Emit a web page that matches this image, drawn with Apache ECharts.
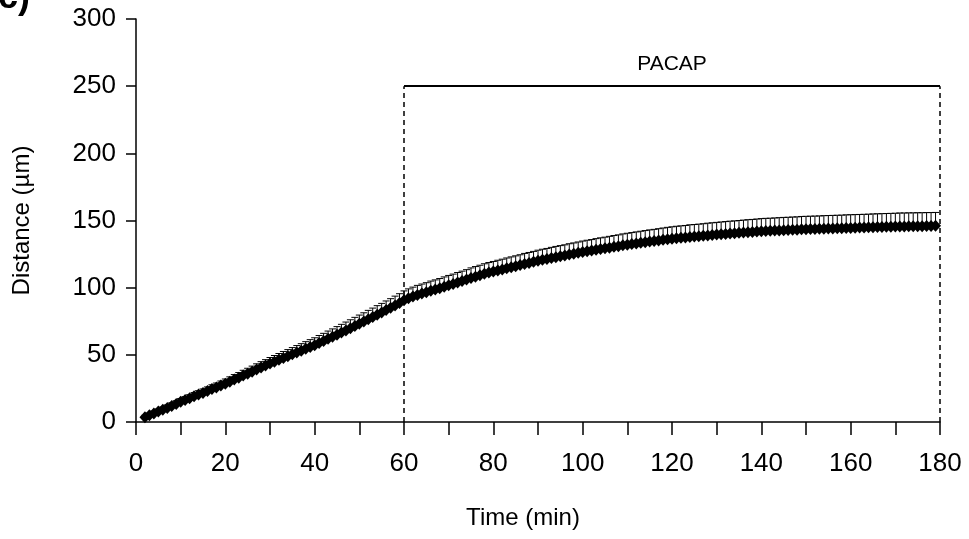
<!DOCTYPE html>
<html>
<head>
<meta charset="utf-8">
<script src="https://cdn.jsdelivr.net/npm/echarts@6/dist/echarts.min.js"></script>
<style>
  html, body { margin: 0; padding: 0; background: #fff; }
  #chart { width: 969px; height: 539px; }
</style>
</head>
<body>
<div id="chart"></div>
<script>
  // time points (min), one per minute
  const times = [];
  for (let t = 2; t <= 179; t++) times.push(t);

  // mean distance (µm)
  const distance = [
    3.5, 5.0, 6.3, 7.8, 9.2, 10.5, 12.0, 13.4, 15.0,
    16.3, 17.6, 19.1, 20.4, 21.6, 23.0, 24.5, 25.7, 27.1, 28.5,
    30.0, 31.6, 33.0, 34.6, 36.0, 37.5, 39.1, 40.6, 42.0, 43.5,
    44.9, 46.3, 47.7, 49.0, 50.4, 51.8, 53.1, 54.5, 55.9, 57.2,
    58.8, 60.3, 61.9, 63.4, 65.0, 66.6, 68.2, 69.8, 71.5, 73.1,
    74.8, 76.5, 78.2, 79.9, 81.6, 83.3, 85.0, 86.8, 88.6, 90.6,
    92.1, 93.4, 94.6, 95.6, 96.6, 97.7, 98.6, 99.6, 100.7, 101.8,
    102.8, 103.9, 104.9, 106.0, 107.2, 108.2, 109.2, 110.3, 111.2, 112.0,
    112.8, 113.6, 114.5, 115.2, 116.0, 116.8, 117.7, 118.4, 119.2, 120.0,
    120.7, 121.3, 122.0, 122.7, 123.3, 123.9, 124.6, 125.2, 125.9, 126.5,
    127.1, 127.6, 128.2, 128.8, 129.3, 129.8, 130.4, 130.9, 131.5, 132.0,
    132.5, 132.9, 133.4, 133.9, 134.3, 134.7, 135.2, 135.6, 136.1, 136.5,
    136.8, 137.1, 137.4, 137.8, 138.0, 138.3, 138.6, 138.9, 139.2, 139.5,
    139.8, 140.0, 140.3, 140.5, 140.8, 141.0, 141.3, 141.5, 141.8, 142.0,
    142.2, 142.3, 142.5, 142.6, 142.8, 142.9, 143.1, 143.2, 143.4, 143.5,
    143.6, 143.7, 143.8, 143.9, 144.0, 144.1, 144.2, 144.3, 144.4, 144.5,
    144.6, 144.7, 144.8, 144.9, 145.0, 145.1, 145.2, 145.3, 145.4, 145.5,
    145.6, 145.6, 145.7, 145.7, 145.8, 145.8, 145.9, 145.9, 146.0
  ];

  // upper error (µm)
  const errUp = [
    1.5, 1.6, 1.8, 1.9, 2.0, 2.2, 2.3, 2.4, 2.5,
    2.6, 2.7, 2.8, 2.9, 3.0, 3.1, 3.2, 3.3, 3.4, 3.5,
    3.6, 3.7, 3.8, 3.9, 4.0, 4.1, 4.2, 4.3, 4.4, 4.5,
    4.6, 4.7, 4.8, 4.9, 5.0, 5.1, 5.2, 5.3, 5.4, 5.5,
    5.6, 5.7, 5.8, 5.9, 6.0, 6.1, 6.2, 6.3, 6.4, 6.5,
    6.5, 6.6, 6.6, 6.7, 6.7, 6.8, 6.8, 6.9, 6.9, 7.0,
    7.0, 7.0, 7.1, 7.1, 7.1, 7.2, 7.2, 7.2, 7.3, 7.3,
    7.3, 7.4, 7.4, 7.4, 7.5, 7.5, 7.5, 7.5, 7.5, 7.5,
    7.6, 7.6, 7.6, 7.7, 7.7, 7.7, 7.8, 7.8, 7.8, 7.9,
    7.9, 7.9, 8.0, 8.0, 8.0, 8.0, 8.1, 8.1, 8.1, 8.2,
    8.2, 8.2, 8.3, 8.3, 8.3, 8.4, 8.4, 8.4, 8.5, 8.5,
    8.5, 8.6, 8.6, 8.6, 8.7, 8.7, 8.7, 8.8, 8.8, 8.8,
    8.9, 8.9, 8.9, 9.0, 9.0, 9.0, 9.0, 9.1, 9.1, 9.1,
    9.1, 9.2, 9.2, 9.2, 9.2, 9.3, 9.3, 9.3, 9.3, 9.4,
    9.4, 9.4, 9.4, 9.5, 9.5, 9.5, 9.5, 9.5, 9.6, 9.6,
    9.6, 9.6, 9.6, 9.7, 9.7, 9.7, 9.7, 9.7, 9.8, 9.8,
    9.8, 9.8, 9.8, 9.8, 9.9, 9.9, 9.9, 9.9, 9.9, 9.9,
    10.0, 10.0, 10.0, 10.0, 10.0, 10.0, 10.0, 10.0, 10.0
  ];

  // PACAP application window
  const pacapStart = 60;
  const pacapEnd = 180;
  const pacapLevel = 250;

  const FONT = 'Liberation Sans, Arial, sans-serif';

  const points = times.map((t, i) => [t, distance[i]]);
  const bars = times.map((t, i) => [t, distance[i], distance[i] + errUp[i]]);

  const chart = echarts.init(document.getElementById('chart'), null, { renderer: 'canvas' });

  const option = {
    animation: false,
    backgroundColor: '#fff',
    grid: {
      left: 136,
      right: 29,
      top: 19,
      bottom: 117,
      containLabel: false,
    },
    graphic: [
      {
        type: 'text',
        left: -14,
        top: -20,
        style: {
          text: '(c)',
          font: 'bold 36px ' + FONT,
          fill: '#000',
        },
      },
    ],
    xAxis: {
      type: 'value',
      min: 0,
      max: 180,
      interval: 10,
      name: 'Time (min)',
      nameLocation: 'middle',
      nameGap: 84,
      nameTextStyle: {
        color: '#000',
        fontSize: 24,
        fontFamily: FONT,
        padding: [0, 30, 0, 0],
      },
      splitLine: { show: false },
      axisLine: {
        show: true,
        onZero: false,
        lineStyle: { color: '#000', width: 1.5 },
      },
      axisTick: {
        show: true,
        inside: false,
        length: 13,
        lineStyle: { color: '#000', width: 1.5 },
      },
      axisLabel: {
        color: '#000',
        fontSize: 26,
        fontFamily: FONT,
        margin: 29,
        formatter: (v) => (v % 20 === 0 ? String(v) : ''),
      },
    },
    yAxis: {
      type: 'value',
      min: 0,
      max: 300,
      interval: 50,
      name: 'Distance (µm)',
      nameLocation: 'middle',
      nameGap: 102,
      nameTextStyle: {
        color: '#000',
        fontSize: 24,
        fontFamily: FONT,
      },
      splitLine: { show: false },
      axisLine: {
        show: true,
        lineStyle: { color: '#000', width: 1.5 },
      },
      axisTick: {
        show: true,
        inside: false,
        length: 10,
        lineStyle: { color: '#000', width: 1.5 },
      },
      axisLabel: {
        color: '#000',
        fontSize: 26,
        fontFamily: FONT,
        margin: 20,
      },
    },
    series: [
      {
        // upper error bars
        type: 'custom',
        data: bars,
        z: 2,
        silent: true,
        renderItem: (params, api) => {
          const base = api.coord([api.value(0), api.value(1)]);
          const top = api.coord([api.value(0), api.value(2)]);
          const half = 3.5;
          const style = { stroke: '#000', lineWidth: 1 };
          return {
            type: 'group',
            children: [
              { type: 'line', shape: { x1: base[0], y1: base[1], x2: top[0], y2: top[1] }, style },
              { type: 'line', shape: { x1: top[0] - half, y1: top[1], x2: top[0] + half, y2: top[1] }, style },
            ],
          };
        },
      },
      {
        type: 'scatter',
        data: points,
        z: 3,
        symbol: 'diamond',
        symbolSize: [11, 12],
        itemStyle: { color: '#000', opacity: 1 },
        markLine: {
          silent: true,
          symbol: 'none',
          animation: false,
          label: { show: false },
          data: [
            [
              { coord: [pacapStart, 0], lineStyle: { type: [5, 4], color: '#000', width: 1.5 } },
              { coord: [pacapStart, pacapLevel] },
            ],
            [
              { coord: [pacapEnd, 0], lineStyle: { type: [5, 4], color: '#000', width: 1.5 } },
              { coord: [pacapEnd, pacapLevel] },
            ],
            [
              {
                coord: [pacapStart, pacapLevel],
                lineStyle: { type: 'solid', color: '#000', width: 2 },
                label: {
                  show: true,
                  formatter: 'PACAP',
                  position: 'middle',
                  distance: 11,
                  color: '#000',
                  fontSize: 21,
                  fontFamily: FONT,
                },
              },
              { coord: [pacapEnd, pacapLevel] },
            ],
          ],
        },
      },
    ],
  };

  chart.setOption(option);
</script>
</body>
</html>
